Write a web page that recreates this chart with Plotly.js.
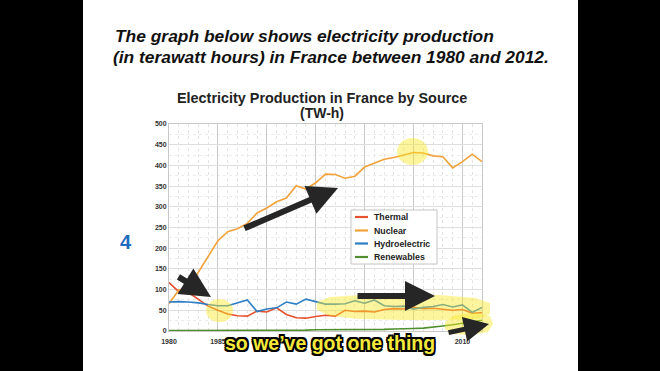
<!DOCTYPE html>
<html><head><meta charset="utf-8">
<script src="https://cdn.plot.ly/plotly-3.0.1.min.js"></script>
<style>html,body{margin:0;padding:0;background:#000;}#chart{width:660px;height:371px;}</style>
</head><body><div id="chart"></div>
<script>
const years = [1980,1981,1982,1983,1984,1985,1986,1987,1988,1989,1990,1991,1992,1993,1994,1995,1996,1997,1998,1999,2000,2001,2002,2003,2004,2005,2006,2007,2008,2009,2010,2011,2012];
const thermal = [117,95,93,76,60,50,41,37,36,48,46,56,40,32,31,35,38,36,50,47,48,46,52,54,53,57,54,55,53,50,52,43,44];
const nuclear = [66,99,104,143,182,218,240,247,260,285,297,312,321,351,343,358,379,378,369,374,396,405,415,419,425,431,430,423,421,394,409,427,409];
const hydro = [70,71,70,68,64,61,61,68,75,47,53,56,70,65,77,71,65,65,66,73,67,75,61,59,60,53,57,59,64,58,63,45,57];
const renewables = [1,1,1,1,1,1,1,1,1,1,1,1,1,2,2,3,3,3,3,4,4,4,4,5,5,6,7,9,12,15,19,22,26];
const seriesNames = ['Thermal','Nuclear','Hydroelectric','Renewables'];
const xTicks = [1980,1985,1990,1995,2000,2005,2010];
const xTickText = ['1980','1985','','','','','2010'];   // 1990–2005 hidden behind the caption in the reference
const yTicks = [0,50,100,150,200,250,300,350,400,450,500];

const L=169, R=482, T=124, B=331;
const px = x => (x-L)/(R-L);
const py = y => (B-y)/(B-T);
const FONT = 'Liberation Sans, Arial, sans-serif';

const colors = ['#e5502f','#f2a23a','#2f7fc4','#4f8f2d'];
const vals = [thermal, nuclear, hydro, renewables];
const traces = vals.map((v,i)=>({
  x: years, y: v, name: seriesNames[i], type:'scatter', mode:'lines',
  line:{color:colors[i], width:1.6}, showlegend:false
}));

function poly(pts){ return 'M' + pts.map(p=>px(p[0]).toFixed(4)+','+py(p[1]).toFixed(4)).join(' L') + ' Z'; }
const HL = 'rgba(250,232,40,0.45)';
const shapes = [
  {type:'rect', xref:'paper', yref:'paper', layer:'below', x0:px(83), x1:px(578), y0:py(371), y1:py(0), fillcolor:'#fff', line:{width:0}},
  // legend box
  {type:'rect', xref:'paper', yref:'paper', layer:'above', x0:px(351), x1:px(437), y0:py(264), y1:py(210), fillcolor:'#fff', line:{color:'#c4c4c4', width:1}}
];
const legendY = [217, 230.5, 243.5, 257];
seriesNames.forEach((n,i)=>{
  shapes.push({type:'line', xref:'paper', yref:'paper', layer:'above', x0:px(355), x1:px(368), y0:py(legendY[i]), y1:py(legendY[i]), line:{color:colors[i], width:2.2}});
});
shapes.push(
  {type:'circle', xref:'paper', yref:'paper', layer:'above', x0:px(397), x1:px(428), y0:py(165), y1:py(138), fillcolor:HL, line:{width:0}},
  {type:'circle', xref:'paper', yref:'paper', layer:'above', x0:px(206), x1:px(233), y0:py(322), y1:py(299), fillcolor:HL, line:{width:0}},
  {type:'path', xref:'paper', yref:'paper', layer:'above', fillcolor:HL, line:{width:0},
   path: poly([[317,302],[330,297],[360,295],[400,294],[440,295],[475,298],[490,303],[490,314],[478,319],[440,320],[400,320],[360,319],[330,316],[317,310]])},
  {type:'path', xref:'paper', yref:'paper', layer:'above', fillcolor:HL, line:{width:0},
   path: poly([[445,322],[455,315],[475,313],[490,316],[493,324],[488,332],[470,335],[452,334],[445,329]])}
);

const outline = '-1.6px -1.6px 0 #000, 1.6px -1.6px 0 #000, -1.6px 1.6px 0 #000, 1.6px 1.6px 0 #000, 0 1.8px 0 #000, 0 -1.8px 0 #000, 1.8px 0 0 #000, -1.8px 0 0 #000';

function arrow(tx,ty,sx,sy,w){
  return {xref:'paper', yref:'paper', x:px(tx), y:py(ty), ax:sx-tx, ay:sy-ty, text:'', showarrow:true,
    arrowhead:2, arrowsize:1, arrowwidth:w||6, arrowcolor:'#262626', standoff:0, startstandoff:0};
}

const annotations = [
  {xref:'paper', yref:'paper', x:px(113), y:py(36), xanchor:'left', yanchor:'middle', showarrow:false,
   text:'<b><i>The graph below shows electricity production</i></b>', font:{family:FONT, size:17.4, color:'#111'}},
  {xref:'paper', yref:'paper', x:px(111), y:py(57), xanchor:'left', yanchor:'middle', showarrow:false,
   text:'<b><i>(in terawatt hours) in France between 1980 and 2012.</i></b>', font:{family:FONT, size:17.4, color:'#111'}},
  {xref:'paper', yref:'paper', x:px(322), y:py(98), xanchor:'center', yanchor:'middle', showarrow:false,
   text:'<b>Electricity Production in France by Source</b>', font:{family:FONT, size:14.4, color:'#222'}},
  {xref:'paper', yref:'paper', x:px(322), y:py(113), xanchor:'center', yanchor:'middle', showarrow:false,
   text:'<b>(TW-h)</b>', font:{family:FONT, size:14, color:'#222'}},
  {xref:'paper', yref:'paper', x:px(126), y:py(242), xanchor:'center', yanchor:'middle', showarrow:false,
   text:'<b>4</b>', font:{family:FONT, size:20, color:'#1f6cc0'}}
];
seriesNames.forEach((n,i)=>{
  annotations.push({xref:'paper', yref:'paper', x:px(372), y:py(legendY[i]), xanchor:'left', yanchor:'middle', showarrow:false,
    text:'<b>'+n+'</b>', font:{family:FONT, size:8.8, color:'#222'}});
});
annotations.push(
  arrow(338,188,243,229),
  arrow(211,297,177,276),
  arrow(435,296,356,296),
  arrow(489,324,447,333,5),
  {xref:'paper', yref:'paper', x:px(330), y:py(343), xanchor:'center', yanchor:'middle', showarrow:false,
   text:'<b>so we’ve got one thing</b>', font:{family:FONT, size:19.5, color:'#f5ea3c', shadow:outline}}
);

const layout = {
  width:660, height:371,
  margin:{l:L, r:660-R, t:T, b:371-B, pad:0},
  paper_bgcolor:'#000', plot_bgcolor:'#fff',
  showlegend:false,
  xaxis:{range:[1980,2012], tickvals:xTicks, ticktext:xTickText, ticks:'', ticklabelstandoff:4, showgrid:true, gridcolor:'#c9c9c9', gridwidth:1,
    minor:{dtick:1, tick0:1980, showgrid:true, gridcolor:'#e4e4e4', griddash:'dot', ticks:''},
    showline:true, linecolor:'#c9c9c9', mirror:true, zeroline:false,
    tickfont:{family:FONT, size:7, color:'#333', weight:'bold'}, fixedrange:true},
  yaxis:{range:[0,500], tickvals:yTicks, ticks:'', showgrid:true, gridcolor:'#dedede', gridwidth:1,
    minor:{dtick:25, showgrid:true, gridcolor:'#ececec', griddash:'dot', ticks:''},
    showline:true, linecolor:'#c9c9c9', mirror:true, zeroline:false,
    tickfont:{family:FONT, size:7, color:'#333', weight:'bold'}, fixedrange:true},
  shapes:shapes, annotations:annotations
};
Plotly.newPlot('chart', traces, layout, {displayModeBar:false, staticPlot:true});
</script></body></html>
